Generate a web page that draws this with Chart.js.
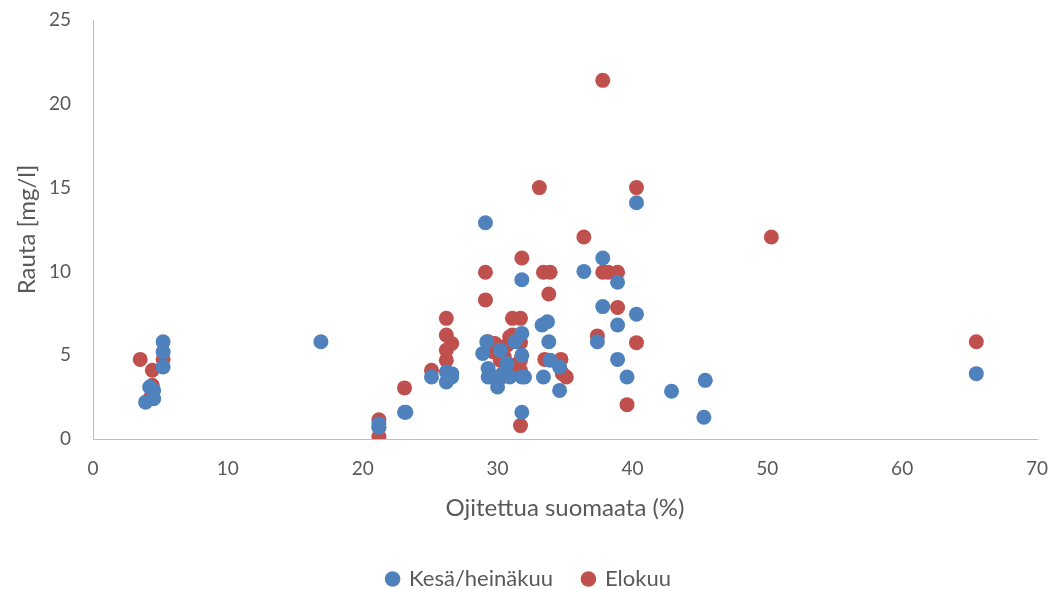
<!DOCTYPE html>
<html>
<head>
<meta charset="utf-8">
<script src="https://cdn.jsdelivr.net/npm/chart.js@4"></script>
<style>
  html, body { margin: 0; padding: 0; background: #fff; overflow: hidden; }
  #wrap { width: 1058px; height: 589px; overflow: hidden; }
</style>
</head>
<body>
<div id="wrap"><canvas id="chart" width="1058" height="600"></canvas></div>
<script>
// Ojitettu suoala (%) vs rauta (mg/l)
const seriesNames = ['Kesä/heinäkuu', 'Elokuu'];

const kesaX = [3.9, 4.5, 4.2, 4.5, 5.2, 5.2, 5.2,
    16.9,
    21.2, 21.2,
    23.1, 23.2,
    25.1, 26.2, 26.2, 26.6, 26.6,
    29.1, 29.2, 28.9, 29.3, 29.3, 30.0, 29.6, 30.4, 30.9, 30.7, 31.8, 31.8, 31.8, 31.8, 32.0, 31.8, 31.3, 30.2,
    33.3, 33.7, 33.8, 33.4, 33.9, 34.6, 34.6,
    36.4, 37.8, 38.9, 37.8, 40.3, 38.9, 37.4, 38.9, 39.6, 42.9, 40.3,
    45.4, 45.3, 65.5];
const kesaY = [2.2, 2.4, 3.1, 2.9, 5.8, 5.2, 4.3,
    5.8,
    0.7, 0.9,
    1.6, 1.6,
    3.7, 3.4, 4.0, 3.9, 3.7,
    12.9, 5.8, 5.1, 4.2, 3.7, 3.1, 3.7, 3.9, 3.7, 4.5, 9.5, 6.3, 5.0, 3.7, 3.7, 1.6, 5.8, 5.3,
    6.8, 7.0, 5.8, 3.7, 4.7, 4.3, 2.9,
    10.0, 10.8, 9.35, 7.9, 7.45, 6.8, 5.8, 4.75, 3.7, 2.85, 14.1,
    3.5, 1.3, 3.9];

const elokuuX = [3.5, 4.4, 5.2, 4.4, 4.2,
    21.2, 21.2, 21.2,
    23.1,
    25.1, 26.2, 26.2, 26.6, 26.2, 26.2,
    29.1, 29.1, 29.3, 29.8, 29.7, 30.2, 30.0, 30.3, 30.7, 31.1, 30.9, 31.1, 31.7, 31.7, 31.7, 31.7, 31.8, 31.7, 30.5, 31.0,
    33.1, 33.4, 33.9, 33.8, 33.5, 34.7, 34.8, 35.1,
    36.4, 37.8, 37.8, 38.2, 38.9, 38.9, 37.4, 40.3, 39.6, 40.3,
    50.3, 65.5];
const elokuuY = [4.75, 4.1, 4.75, 3.2, 2.4,
    0.15, 1.15, 0.7,
    3.05,
    4.1, 7.2, 6.2, 5.7, 5.3, 4.7,
    9.95, 8.3, 5.8, 5.7, 5.2, 4.7, 3.7, 3.7, 5.6, 6.2, 6.1, 7.2, 7.2, 5.75, 4.7, 4.1, 10.8, 0.8, 4.9, 4.4,
    15.0, 9.95, 9.95, 8.65, 4.75, 4.75, 3.9, 3.7,
    12.05, 21.4, 9.95, 9.95, 9.95, 7.85, 6.15, 5.75, 2.05, 15.0,
    12.05, 5.8];

const xTitle = 'Ojitettua suomaata (%)';
const yTitle = 'Rauta [mg/l]';

const blue = '#4F81BD';
const red = '#C0504D';
const textColor = '#595959';
const axisColor = '#BFBFBF';
const fontFamily = 'Lato, "Open Sans", sans-serif';

function toPoints(xs, ys) {
    return xs.map((x, i) => ({ x: x, y: ys[i] }));
}

const ctx = document.getElementById('chart');

new Chart(ctx, {
    type: 'scatter',
    data: {
        datasets: [
            {
                label: seriesNames[0],
                data: toPoints(kesaX, kesaY),
                backgroundColor: blue,
                borderColor: blue,
                pointRadius: 7.5,
                borderWidth: 0
            },
            {
                label: seriesNames[1],
                data: toPoints(elokuuX, elokuuY),
                backgroundColor: red,
                borderColor: red,
                pointRadius: 7.5,
                borderWidth: 0
            }
        ]
    },
    options: {
        responsive: false,
        animation: false,
        layout: {
            autoPadding: false,
            padding: { top: 20, right: 0, left: 0, bottom: 0 }
        },
        plugins: {
            legend: {
                position: 'bottom',
                labels: {
                    usePointStyle: true,
                    pointStyle: 'circle',
                    boxWidth: 11,
                    boxHeight: 11,
                    padding: 30,
                    color: textColor,
                    font: { family: fontFamily, size: 22 }
                }
            },
            tooltip: { enabled: false }
        },
        scales: {
            x: {
                type: 'linear',
                min: 0,
                max: 70,
                ticks: {
                    stepSize: 10,
                    color: textColor,
                    padding: 18,
                    font: { family: fontFamily, size: 19 }
                },
                grid: { display: false, drawTicks: false },
                border: { display: true, color: axisColor, width: 1 },
                title: {
                    display: true,
                    text: xTitle,
                    color: textColor,
                    font: { family: fontFamily, size: 24 },
                    padding: { top: 0, bottom: 15 }
                },
                afterFit: function(scale) {
                    // keep the plot edge fixed, the legend stays centred on the page
                    scale.height = 99;
                    scale.paddingLeft = 0;
                    scale.paddingRight = 21;
                }
            },
            y: {
                min: 0,
                max: 25,
                ticks: {
                    stepSize: 5,
                    color: textColor,
                    padding: 22,
                    font: { family: fontFamily, size: 19 }
                },
                grid: { display: false, drawTicks: false },
                border: { display: true, color: axisColor, width: 1 },
                title: {
                    display: true,
                    text: yTitle,
                    color: textColor,
                    font: { family: fontFamily, size: 24 },
                    padding: { top: 13, bottom: 0 }
                },
                afterFit: function(scale) {
                    scale.width = 93;
                    scale.paddingTop = 0;
                    scale.paddingBottom = 0;
                }
            }
        }
    }
});
</script>
</body>
</html>
